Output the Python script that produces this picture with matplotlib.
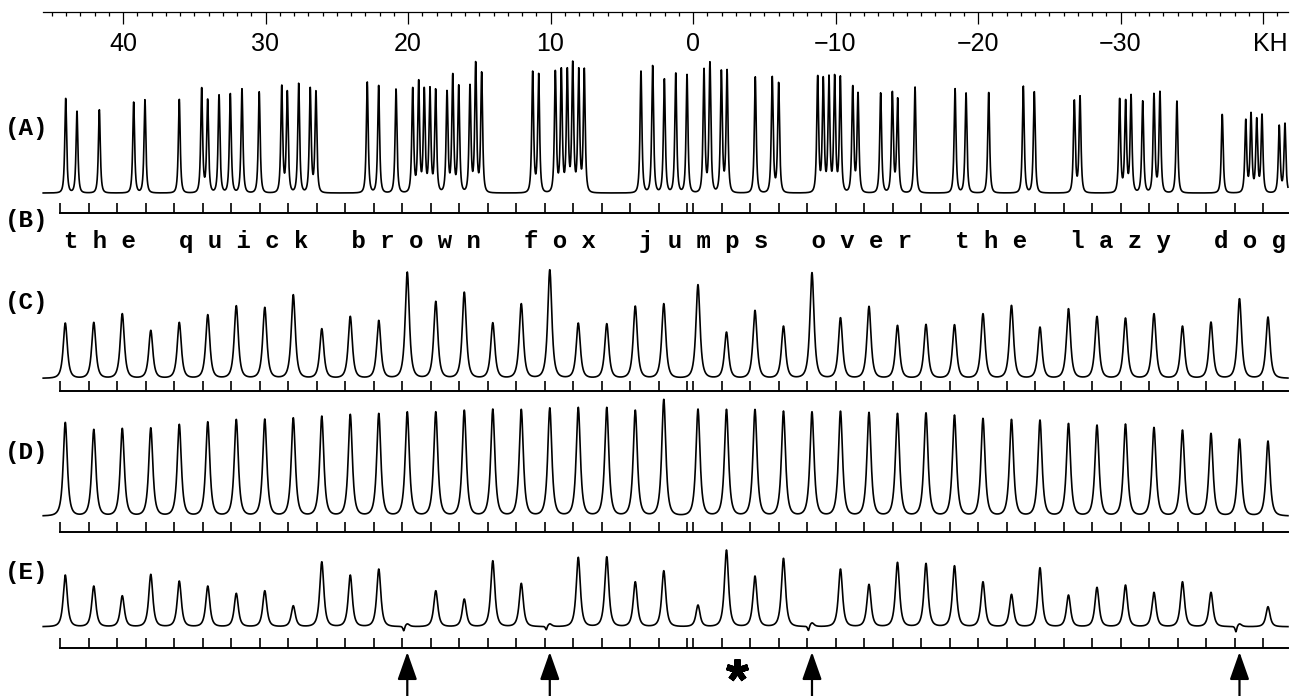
import numpy as np
import matplotlib
matplotlib.use("Agg")
import matplotlib.pyplot as plt
from matplotlib.transforms import blended_transform_factory

# ------------------------------------------------------------------ data
# top KH axis
kh_major = [40, 30, 20, 10, 0, -10, -20, -30, -40]
kh_major_labels = ["40", "30", "20", "10", "0", "\u221210", "\u221220", "\u221230", ""]
kh_minor = list(range(45, -42, -1))
kh_unit = "KH"

# (A) spectrum: peak positions (KH) and peak heights (arb. units)
A_pos = [44.02, 43.23, 41.66, 39.25, 38.46, 36.05, 34.48, 34.06, 33.26, 32.47,
         31.65, 30.44, 28.86, 28.47, 27.67, 26.86, 26.46, 22.86, 22.06, 20.84,
         19.67, 19.25, 18.86, 18.46, 18.06, 17.26, 16.86, 16.44, 15.65, 15.25,
         14.83, 11.25, 10.83, 9.66, 9.24, 8.82, 8.44, 8.02, 7.63, 3.65,
         2.83, 2.01, 1.21, 0.42, -0.77, -1.19, -1.99, -2.39, -4.37, -5.56,
         -6.01, -8.75, -9.14, -9.54, -9.94, -10.34, -11.21, -11.58, -13.17, -13.99,
         -14.36, -15.58, -18.39, -19.16, -20.75, -23.18, -23.95, -26.76, -27.16, -29.94,
         -30.36, -30.74, -31.56, -32.35, -32.77, -33.96, -37.14, -38.79, -39.16, -39.56,
         -39.93, -41.14, -41.54]
A_height = [95.3, 82, 83.7, 91, 93.7, 93.7, 105.7, 94.7, 99, 99.7,
            104.3, 101.3, 108.3, 103, 110.3, 105.7, 103, 111.3, 108, 104.7,
            105.7, 113.7, 106.3, 106.3, 104.7, 103, 119.7, 108.7, 108.7, 132,
            121.3, 122, 119.7, 123, 125.3, 125.3, 132, 125.3, 125.3, 122,
            128, 114.7, 120.7, 118.7, 125.3, 132, 123.7, 123.7, 116.3, 117.3,
            111.3, 118, 117, 118, 119, 117.3, 108, 100.7, 100.3, 102.3,
            95.3, 106.3, 104.7, 100.7, 100.7, 107.3, 102, 93.7, 97.3, 94.7,
            93.7, 98.7, 92.3, 100.3, 102, 92, 79, 74, 80.7, 75.7,
            79, 68, 70.3]

# (B) sequence, one letter per peak of (C)-(E)
sequence = "the quick brown fox jumps over the lazy dog"

# (C)-(E) peak positions (KH)
peak_pos = [44.05, 42.05, 40.05, 38.05, 36.05, 34.05, 32.05, 30.05, 28.05, 26.05,
            24.05, 22.05, 20.05, 18.05, 16.05, 14.05, 12.05, 10.05, 8.05, 6.05,
            4.05, 2.05, -0.35, -2.35, -4.35, -6.35, -8.35, -10.35, -12.35, -14.35,
            -16.35, -18.35, -20.35, -22.35, -24.35, -26.35, -28.35, -30.35, -32.35, -34.35,
            -36.35, -38.35, -40.35]
# tick marks of the sequence rows (KH)
seq_ticks = [44.4, 42.4, 40.4, 38.4, 36.4, 34.4, 32.4, 30.4, 28.4, 26.4, 24.4, 22.4,
             20.4, 18.4, 16.4, 14.4, 12.4, 10.4, 8.4, 6.4, 4.4, 2.4, 0.4,
             0, -2, -4, -6, -8, -10, -12, -14, -16, -18, -20, -22, -24, -26, -28,
             -30, -32, -34, -36, -38, -40]

C_height = [55.3, 56, 64.7, 48, 56, 63.7, 72.7, 71, 83.7, 49.7, 62, 58, 106.3, 77,
            86.3, 55.7, 74.7, 108.7, 55.3, 54.7, 72.3, 74.7,
            93.7, 46.3, 68, 52.3, 105.7, 60.7, 72, 53, 54, 53.7, 64.7, 73, 51.3, 69.7,
            62, 60.3, 64.7, 52.3, 56.3, 79.7, 61.3]
D_height = [93.7, 86.7, 87.7, 88.3, 91.7, 94.3, 96.7, 97, 98.3, 100, 101.7, 102.7,
            104.3, 104.3, 106, 107, 106.7, 108.3, 108.7, 108.7, 106, 116.7,
            107, 106.7, 106.7, 105, 104.3, 105, 103.7, 102.7, 103.3, 101, 97.7, 96.7,
            96, 92.7, 91, 92, 88.7, 86, 82.7, 77, 75]
E_height = [51.7, 40.7, 31, 52.4, 45.7, 40.7, 33.4, 36, 21, 65, 51.7, 57.7, 3, 36,
            27.7, 66, 43.4, 3, 69.4, 70, 45, 56,
            21.7, 76.7, 50.7, 68.4, 4, 57.7, 42.4, 64.4, 63.4, 61, 45, 32.4, 59, 31.7,
            39.4, 41.7, 34.4, 45, 34.4, 3, 20]
# small residual dips in (E) next to the missing peaks
E_dip_pos = [20.3, 10.3, -8.1, -38.1]
E_dip_depth = [-5, -4, -5, -6]

# annotations under (E)
arrow_pos = [20.05, 10.05, -8.35, -38.35]
star_pos = -3.09

panel_labels = ["(A)", "(B)", "(C)", "(D)", "(E)"]

# ------------------------------------------------------------------ helpers
W, H = 1296, 696
PX_PER_KH = 14.25
X0_PX = 693.0                       # pixel column of KH = 0
XL = (X0_PX / PX_PER_KH, (X0_PX - W) / PX_PER_KH)
TRACE_START, TRACE_END = 45.6, -41.75

MONO = ["Liberation Mono", "DejaVu Sans Mono"]
SANS = ["Liberation Sans", "DejaVu Sans"]
LW = 1.2


def shape(d, gamma):
    return (1.0 + (d / gamma) ** 2) ** -1.5


def spectrum(x, centers, heights, gamma):
    c = np.asarray(centers, float)
    h = np.asarray(heights, float)
    M = shape(c[:, None] - c[None, :], gamma)
    amps = np.clip(np.linalg.solve(M, h), 0, None)
    return shape(x[:, None] - c[None, :], gamma) @ amps


fig = plt.figure(figsize=(W / 100, H / 100), dpi=100)


def panel(top, bottom, base):
    ax = fig.add_axes([0, 1 - bottom / H, 1, (bottom - top) / H])
    ax.set_xlim(*XL)
    ax.set_ylim(base - bottom, base - top)
    ax.patch.set_visible(False)
    for s in ("top", "left", "right"):
        ax.spines[s].set_visible(False)
    ax.spines["bottom"].set_bounds(seq_ticks[0], TRACE_END)
    ax.spines["bottom"].set_linewidth(1.4)
    ax.set_yticks([])
    ax.set_xticks(seq_ticks)
    ax.tick_params(axis="x", direction="in", length=7.2, width=1.2,
                   labelbottom=False)
    return ax


x = np.linspace(TRACE_START, TRACE_END, 6000)

# (A) trace, with the sequence tick row of (B) as its bottom spine
axA = panel(45, 213, 193)
axA.plot(x, spectrum(x, A_pos, A_height, 0.1), color="black", lw=LW)

# (C)
axC = panel(255, 391, 378.3)
axC.plot(x, spectrum(x, peak_pos, C_height, 0.22), color="black", lw=LW)

# (D)
axD = panel(395, 532, 516)
axD.plot(x, spectrum(x, peak_pos, D_height, 0.22), color="black", lw=LW)

# (E)
axE = panel(540, 648, 626.7)
yE = spectrum(x, peak_pos, E_height, 0.22)
yE = yE + shape(x[:, None] - np.asarray(E_dip_pos)[None, :], 0.09) @ np.asarray(E_dip_depth, float)
axE.plot(x, yE, color="black", lw=LW)

# top KH axis
axT = fig.add_axes([0, 1 - 12 / H, 1, 0.0005])
axT.set_xlim(*XL)
axT.patch.set_visible(False)
for s in ("top", "left", "right"):
    axT.spines[s].set_visible(False)
axT.spines["bottom"].set_bounds(TRACE_START, TRACE_END)
axT.spines["bottom"].set_linewidth(0.9)
axT.set_yticks([])
axT.set_xticks(kh_major)
axT.set_xticklabels(kh_major_labels, family=SANS, fontsize=18)
axT.set_xticks(kh_minor, minor=True)
axT.tick_params(axis="x", which="major", direction="out", length=8.6,
                width=0.9, pad=6)
axT.tick_params(axis="x", which="minor", direction="out", length=2.9,
                width=0.9)
axT.text(-40.49, 1 - 32.3 / H, kh_unit,
         transform=blended_transform_factory(axT.transData, fig.transFigure),
         ha="center", va="top", family=SANS, fontsize=18)

# (B) sequence text
fig.text(674.6 / W, 1 - 248 / H, " ".join(sequence), ha="center",
         va="baseline", family=MONO, weight="bold", fontsize=17.24)

# panel labels
for lab, ypx in zip(panel_labels, [129, 221, 302, 452, 572]):
    fig.text(5 / W, 1 - ypx / H, lab, ha="left", va="center", family=MONO,
             weight="bold", fontsize=17.5)

# arrows and asterisk under (E)
axR = fig.add_axes([0, 0, 1, 48 / H])
axR.set_xlim(*XL)
axR.set_ylim(0, 48)
axR.axis("off")
for xa in arrow_pos:
    axR.annotate("", xy=(xa, 44), xytext=(xa, -3),
                 arrowprops=dict(arrowstyle="-|>,head_length=0.85,head_width=0.3",
                                 mutation_scale=20, lw=1.6, color="black",
                                 shrinkA=0, shrinkB=0))
axR.plot([star_pos], [26], marker=(5, 2, 0), ms=16, mew=4.5, color="black")

fig.savefig("out.png", dpi=100)
